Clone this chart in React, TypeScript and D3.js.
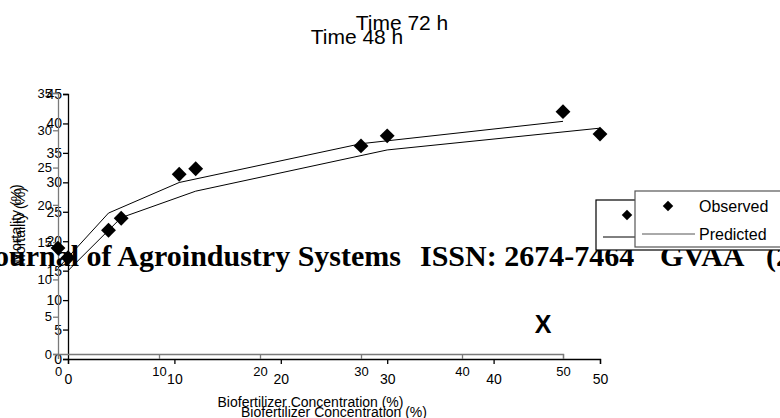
import React, { useEffect, useRef } from 'react';
import * as d3 from 'd3';

// biofertilizer concentration (%) of each treatment
const concentrations = [0, 5, 12, 30, 50];

// Time 48 h panel (grey axes)
const observed48 = [14.2, 16.6, 24.1, 27.9, 32.5];
const predicted48 = [11.5, 18.9, 23.0, 28.2, 31.2];
const yTicks48 = [0, 5, 10, 15, 20, 25, 30, 35];

// Time 72 h panel (black axes)
const observed72 = [17.2, 23.9, 32.3, 37.9, 38.2];
const predicted72 = [15.0, 24.0, 28.5, 35.5, 39.2];
const yTicks72 = [0, 5, 10, 15, 20, 25, 30, 35, 40, 45];

const xTicks = [0, 10, 20, 30, 40, 50];
const legendLabels = ['Observed', 'Predicted'];

const SANS = 'Arial, "Liberation Sans", sans-serif';
const SERIF = '"Times New Roman", "Liberation Serif", serif';

const App = () => {
  const svgRef = useRef<SVGSVGElement>(null);

  useEffect(() => {
    const svg = d3.select(svgRef.current);
    svg.selectAll('*').remove();

    const diamond = d3.symbol().type(d3.symbolSquare);

    const drawPanel = (opts: any) => {
      const { x, y, yTicks, observed, predicted, axisColor, tickFont, xPad, title, titlePos, xTitleY, yTitleX } = opts;
      const g = svg.append('g');

      const yAxis = g.append('g')
        .attr('transform', `translate(${x.range()[0]},0)`)
        .call(d3.axisLeft(y).tickValues(yTicks).tickSize(5).tickSizeOuter(5).tickPadding(1).tickFormat(d3.format('d')));
      const xAxis = g.append('g')
        .attr('transform', `translate(0,${y.range()[0]})`)
        .call(d3.axisBottom(x).tickValues(xTicks).tickSize(5).tickSizeOuter(5).tickPadding(xPad).tickFormat(d3.format('d')));

      [yAxis, xAxis].forEach(a => {
        a.selectAll('path, line').attr('stroke', axisColor).attr('stroke-width', 1.3);
        a.selectAll('text').attr('fill', '#000').style('font-family', SANS).style('font-size', `${tickFont}px`);
      });

      const line = d3.line<number>()
        .x((_, i) => x(concentrations[i]))
        .y(d => y(d));
      g.append('path')
        .datum(predicted)
        .attr('d', line)
        .attr('fill', 'none')
        .attr('stroke', '#000')
        .attr('stroke-width', 1);

      g.selectAll('.obs')
        .data(observed)
        .enter()
        .append('path')
        .attr('d', diamond.size(110)())
        .attr('transform', (d, i) => `translate(${x(concentrations[i])},${y(d)}) rotate(45)`)
        .attr('fill', '#000');

      g.append('text')
        .attr('x', titlePos[0])
        .attr('y', titlePos[1])
        .attr('text-anchor', 'middle')
        .style('font-family', SANS)
        .style('font-size', '21px')
        .text(title);

      g.append('text')
        .attr('x', (x.range()[0] + x.range()[1]) / 2)
        .attr('y', xTitleY)
        .attr('text-anchor', 'middle')
        .style('font-family', SANS)
        .style('font-size', '14px')
        .text('Biofertilizer Concentration (%)');

      g.append('text')
        .attr('transform', `translate(${yTitleX},${(y.range()[0] + y.range()[1]) / 2}) rotate(-90)`)
        .attr('text-anchor', 'middle')
        .style('font-family', SANS)
        .style('font-size', '14px')
        .text('Mortality (%)');
    };

    drawPanel({
      x: d3.scaleLinear().domain([0, 50]).range([68, 600]),
      y: d3.scaleLinear().domain([0, 45]).range([359, 94]),
      yTicks: yTicks72, observed: observed72, predicted: predicted72,
      axisColor: '#000', tickFont: 14, xPad: 10,
      title: 'Time 72 h', titlePos: [402, 30], xTitleY: 417, yTitleX: 25,
    });
    drawPanel({
      x: d3.scaleLinear().domain([0, 50]).range([58, 563]),
      y: d3.scaleLinear().domain([0, 35]).range([354, 93]),
      yTicks: yTicks48, observed: observed48, predicted: predicted48,
      axisColor: '#7a7a7a', tickFont: 13, xPad: 8,
      title: 'Time 48 h', titlePos: [357, 44], xTitleY: 407, yTitleX: 21,
    });

    // journal header bleeding through the figure
    const header = svg.append('g')
      .style('font-family', SERIF)
      .style('font-weight', 'bold')
      .style('font-size', '30px');
    header.append('text').attr('x', 401).attr('y', 266).attr('text-anchor', 'end').text('Journal of Agroindustry Systems');
    header.append('text').attr('x', 420).attr('y', 266).text('ISSN: 2674-7464');
    header.append('text').attr('x', 660).attr('y', 266).text('GVAA');
    header.append('text').attr('x', 766).attr('y', 266).text('(2');

    svg.append('text')
      .attr('x', 543)
      .attr('y', 333)
      .attr('text-anchor', 'middle')
      .style('font-family', SANS)
      .style('font-weight', 'bold')
      .style('font-size', '25px')
      .text('X');

    // legends: the 72 h one sits behind the 48 h one
    const drawLegend = (bx: number, by: number, h: number, color: string, dx: number, lineLen: number) => {
      const lg = svg.append('g');
      lg.append('rect')
        .attr('x', bx).attr('y', by).attr('width', 200).attr('height', h)
        .attr('fill', '#fff').attr('stroke', color).attr('stroke-width', 1.2);
      lg.append('path')
        .attr('d', diamond.size(55)())
        .attr('transform', `translate(${bx + dx},${by + 15}) rotate(45)`)
        .attr('fill', '#000');
      lg.append('line')
        .attr('x1', bx + 7).attr('x2', bx + 7 + lineLen)
        .attr('y1', by + h - 13).attr('y2', by + h - 13)
        .attr('stroke', color).attr('stroke-width', 1);
      legendLabels.forEach((label, i) => {
        lg.append('text')
          .attr('x', bx + 64)
          .attr('y', i === 0 ? by + 15 : by + h - 13)
          .attr('dy', '0.35em')
          .style('font-family', SANS)
          .style('font-size', '16px')
          .text(label);
      });
    };
    drawLegend(596, 200, 50, '#000', 31, 32);
    drawLegend(635, 191, 56, '#555', 33, 53);
  }, []);

  return (
    <svg
      ref={svgRef}
      width={780}
      height={418}
      style={{ position: 'absolute', left: 0, top: 0, background: '#fff' }}
    />
  );
};

export default App;
